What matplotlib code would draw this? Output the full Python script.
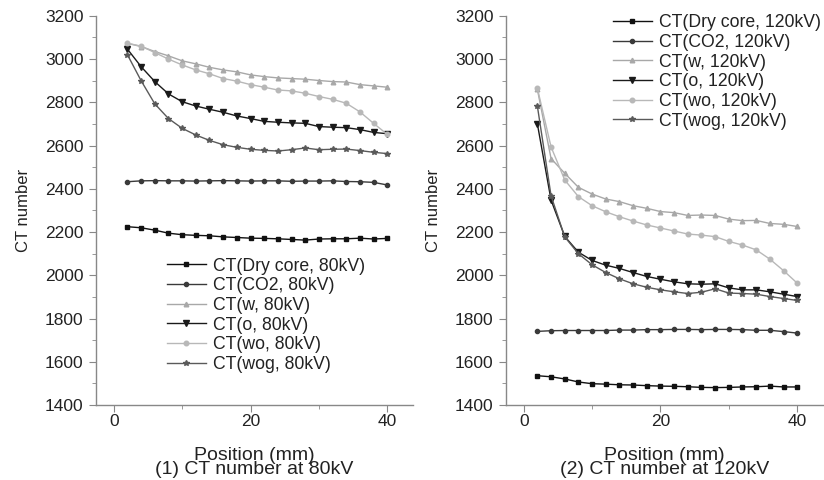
import matplotlib
matplotlib.use("Agg")
import matplotlib.pyplot as plt
from matplotlib.ticker import MultipleLocator

plt.rcParams["font.family"] = ["Liberation Sans", "DejaVu Sans"]

position = [2, 4, 6, 8, 10, 12, 14, 16, 18, 20, 22, 24, 26, 28, 30, 32, 34, 36, 38, 40]

# 80 kV
dry_80 = [2225, 2220, 2209, 2195, 2188, 2185, 2183, 2178, 2175, 2172,
          2171, 2169, 2166, 2163, 2168, 2169, 2169, 2172, 2168, 2171]
co2_80 = [2433, 2437, 2438, 2437, 2437, 2436, 2437, 2438, 2437, 2436,
          2437, 2437, 2435, 2436, 2436, 2437, 2434, 2433, 2430, 2418]
w_80 = [3073, 3058, 3035, 3015, 2992, 2978, 2962, 2950, 2941, 2927,
        2919, 2913, 2910, 2907, 2901, 2896, 2894, 2882, 2876, 2870]
o_80 = [3046, 2965, 2896, 2839, 2803, 2783, 2768, 2754, 2737, 2725,
        2712, 2708, 2705, 2703, 2688, 2685, 2683, 2674, 2661, 2655]
wo_80 = [3073, 3060, 3030, 3000, 2973, 2950, 2932, 2910, 2898, 2882,
         2870, 2857, 2853, 2842, 2827, 2814, 2796, 2756, 2703, 2652]
wog_80 = [3020, 2900, 2793, 2725, 2680, 2649, 2624, 2604, 2592, 2583,
          2578, 2575, 2581, 2589, 2581, 2583, 2584, 2577, 2569, 2563]

# 120 kV
dry_120 = [1536, 1531, 1521, 1507, 1499, 1497, 1494, 1493, 1490, 1488,
           1487, 1485, 1482, 1481, 1482, 1484, 1485, 1488, 1484, 1484]
co2_120 = [1741, 1744, 1745, 1745, 1745, 1745, 1747, 1747, 1749, 1749,
           1750, 1750, 1749, 1750, 1750, 1749, 1746, 1746, 1740, 1733]
w_120 = [2860, 2540, 2472, 2407, 2376, 2353, 2341, 2322, 2310, 2295,
         2290, 2277, 2279, 2277, 2260, 2253, 2254, 2240, 2236, 2226]
o_120 = [2700, 2348, 2180, 2107, 2069, 2047, 2032, 2013, 1995, 1982,
         1970, 1961, 1959, 1961, 1942, 1933, 1933, 1924, 1913, 1902]
wo_120 = [2865, 2594, 2441, 2364, 2322, 2294, 2271, 2251, 2233, 2219,
          2205, 2191, 2186, 2179, 2157, 2140, 2118, 2075, 2022, 1964]
wog_120 = [2782, 2368, 2178, 2100, 2049, 2013, 1984, 1961, 1945, 1933,
           1924, 1916, 1922, 1938, 1918, 1916, 1913, 1902, 1893, 1884]

names = ["Dry core", "CO2", "w", "o", "wo", "wog"]
colors = ["#111111", "#3a3a3a", "#a8a8a8", "#1a1a1a", "#b8b8b8", "#5a5a5a"]
markers = ["s", "o", "^", "v", "o", "*"]
msizes = [3.0, 3.0, 3.3, 3.8, 3.3, 3.8]

fig = plt.figure(figsize=(8.24, 4.8), dpi=100)
ax1 = fig.add_axes([0.1165, 0.156, 0.385, 0.811])
ax2 = fig.add_axes([0.614, 0.156, 0.385, 0.811])

panels = [
    (ax1, [dry_80, co2_80, w_80, o_80, wo_80, wog_80], "80kV",
     "(1) CT number at 80kV", (0.224, 0.379)),
    (ax2, [dry_120, co2_120, w_120, o_120, wo_120, wog_120], "120kV",
     "(2) CT number at 120kV", (0.3375, 1.004)),
]

for ax, series, kv, caption, leg_pos in panels:
    for vals, name, c, m, ms in zip(series, names, colors, markers, msizes):
        ax.plot(position, vals, "-", color=c, marker=m, markersize=ms,
                linewidth=1.0, label=f"CT({name}, {kv})")
    ax.set_xlim(-2.6, 43.8)
    ax.set_ylim(1400, 3200)
    ax.xaxis.set_major_locator(MultipleLocator(20))
    ax.xaxis.set_minor_locator(MultipleLocator(10))
    ax.yaxis.set_major_locator(MultipleLocator(200))
    ax.yaxis.set_minor_locator(MultipleLocator(100))
    for side in ["top", "right"]:
        ax.spines[side].set_visible(False)
    for side in ["left", "bottom"]:
        ax.spines[side].set_color("#888888")
        ax.spines[side].set_linewidth(1.0)
    ax.tick_params(which="major", direction="out", length=5, color="#888888",
                   labelsize=12.5, labelcolor="#222222", pad=4)
    ax.tick_params(which="minor", direction="out", length=3, color="#888888")
    ax.tick_params(axis="x", pad=1.5)
    ax.set_ylabel("CT number", fontsize=12, color="#222222", labelpad=10)
    ax.set_xlabel("Position (mm)\n" + caption, fontsize=14, color="#222222",
                  linespacing=0.78, labelpad=13)
    ax.legend(loc="upper left", bbox_to_anchor=leg_pos, frameon=False,
              fontsize=12.7, handlelength=2.2, handletextpad=0.4,
              labelspacing=0.15, borderaxespad=0.0, borderpad=0.0,
              labelcolor="#222222")

fig.savefig("out.png", dpi=100)
